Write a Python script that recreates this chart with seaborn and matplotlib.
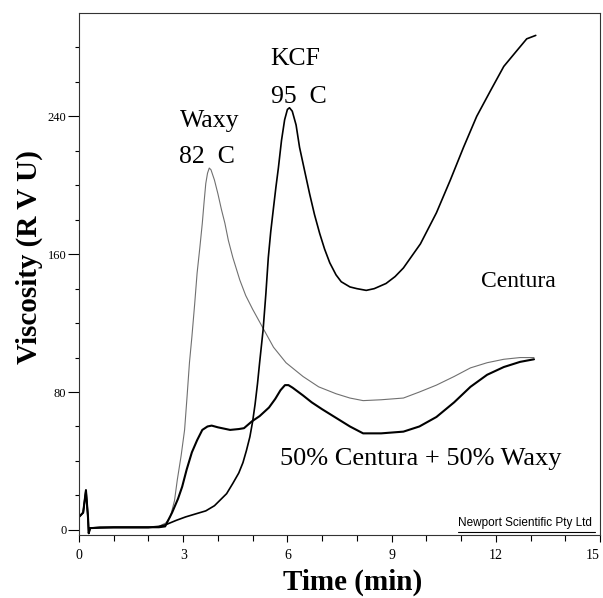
import numpy as np
import pandas as pd
import matplotlib.pyplot as plt
import seaborn as sns

# RVA pasting curves (time in min, viscosity in RVU)
centura_t = [0.0, 0.12, 0.2, 0.26, 0.28, 0.32, 0.6, 1.0, 1.5, 2.0, 2.3, 2.5, 2.8, 3.07, 3.4,
             3.65, 3.9, 4.05, 4.25, 4.43, 4.6, 4.72, 4.82, 4.92, 5.0, 5.07, 5.14, 5.2, 5.3,
             5.38, 5.45, 5.52, 5.6, 5.67, 5.74, 5.83, 5.92, 6.0, 6.06, 6.14, 6.25, 6.35, 6.5,
             6.64, 6.78, 6.93, 7.07, 7.22, 7.4, 7.55, 7.8, 8.0, 8.27, 8.5, 8.84, 9.1, 9.34,
             9.83, 10.29, 10.69, 11.07, 11.45, 11.85, 12.23, 12.6, 12.89, 13.15]
centura_v = [7.5, 10, 23, 7, -2, 1, 1.5, 1.5, 1.5, 1.5, 2, 3, 5.5, 7.5, 9.5,
             11, 14, 17, 21, 27, 33, 39, 46, 54, 63, 73, 85, 97, 116,
             137, 158, 173, 187, 199, 210, 226, 238, 244, 245, 243, 235, 222, 208,
             195, 183, 172, 163, 155, 148, 144, 141, 140, 139, 140, 143, 147, 152,
             166, 184, 203, 222, 240, 255, 269, 278, 285, 287]

waxy_t = [0.0, 0.12, 0.2, 0.26, 0.28, 0.32, 1.0, 2.0, 2.3, 2.5, 2.63, 2.75, 2.83, 2.94, 3.04,
          3.11, 3.18, 3.25, 3.33, 3.4, 3.48, 3.55, 3.6, 3.65, 3.7, 3.75, 3.8, 3.9, 4.0, 4.1,
          4.2, 4.3, 4.43, 4.63, 4.8, 5.0, 5.3, 5.6, 5.96, 6.45, 6.9, 7.4, 7.8, 8.18, 8.7,
          9.34, 9.8, 10.29, 10.8, 11.27, 11.75, 12.23, 12.7, 13.1]
waxy_v = [7.5, 10, 23, 7, -2, 1, 1, 1, 2, 4, 7.5, 17, 29, 43, 58,
          77, 97, 112, 131, 149, 164, 178, 190, 201, 207, 210, 209, 203, 195, 186,
          178, 168, 158, 145, 136, 128, 117, 106, 97, 89, 83, 79, 76.5, 75, 75.5,
          76.5, 80, 84, 89, 94, 97, 99, 100, 100]

mix_t = [0.0, 0.12, 0.2, 0.26, 0.28, 0.32, 1.0, 2.0, 2.3, 2.48, 2.68, 2.85, 2.97, 3.1, 3.25,
         3.4, 3.55, 3.7, 3.82, 4.0, 4.35, 4.6, 4.75, 4.98, 5.2, 5.47, 5.65, 5.8, 5.93, 6.03,
         6.15, 6.45, 6.7, 7.0, 7.4, 7.8, 8.18, 8.7, 9.34, 9.8, 10.29, 10.8, 11.27, 11.75,
         12.23, 12.7, 13.1]
mix_v = [7.5, 10, 23, 7, -2, 1, 1.5, 1.5, 1.5, 2, 10, 18, 25, 35, 45,
         52, 58, 60, 60.5, 59.5, 58, 58.5, 59, 63, 66, 71, 76, 81, 84, 84,
         82.5, 78, 74, 70, 65, 60, 56, 56, 57, 60, 65.5, 74, 83, 90,
         94.5, 97.5, 99]

x_major = [0, 3, 6, 9, 12, 15]
y_major = [0, 80, 160, 240]

sns.set_style('ticks')
plt.rcParams['font.family'] = ['Liberation Serif', 'DejaVu Serif']
plt.rcParams['text.color'] = 'black'
plt.rcParams['axes.labelcolor'] = 'black'
plt.rcParams['xtick.color'] = 'black'
plt.rcParams['ytick.color'] = 'black'

fig = plt.figure(figsize=(6.03, 5.98), dpi=100)
ax = fig.add_axes([79 / 603, 1 - 535 / 598, 521 / 603, 522 / 598])

sns.lineplot(x=waxy_t, y=waxy_v, ax=ax, color='#707070', lw=0.8, estimator=None)
sns.lineplot(x=mix_t, y=mix_v, ax=ax, color='black', lw=1.5, estimator=None)
sns.lineplot(x=centura_t, y=centura_v, ax=ax, color='black', lw=1.2, estimator=None)

ax.set_xlim(0, 15)
ax.set_ylim(-3, 300)
ax.set_xticks(x_major)
ax.set_xticks(np.arange(0, 16, 1), minor=True)
ax.set_yticks(y_major)
ax.set_yticks(np.arange(0, 300, 20), minor=True)
ax.tick_params(axis='x', which='major', direction='out', length=5, width=0.8,
               labelsize=10, pad=5)
ax.tick_params(axis='x', which='minor', direction='out', length=4, width=0.8)
ax.tick_params(axis='y', which='major', direction='out', length=8, width=0.8,
               labelsize=9, pad=1)
ax.tick_params(axis='y', which='minor', direction='out', length=3, width=0.8)
# last x label sits at the figure edge, keep it inside
ax.get_xticklabels()[-1].set_ha('right')
for s in ax.spines.values():
    s.set_linewidth(0.8)
    s.set_color('#333333')

ax.set_xlabel('Time (min)', fontsize=21, fontweight='bold')
ax.set_ylabel('Viscosity (R V U)', fontsize=21, fontweight='bold')
ax.xaxis.set_label_coords(0.526, -0.065)
ax.yaxis.set_label_coords(-0.069, 0.533)

# curve labels
ax.text(2.92, 234, 'Waxy', fontsize=18.5, va='baseline')
ax.text(2.89, 213, '82  C', fontsize=18.5, va='baseline')
ax.text(5.52, 270, 'KCF', fontsize=18.5, va='baseline')
ax.text(5.52, 248, '95  C', fontsize=18.5, va='baseline')
ax.text(11.56, 141, 'Centura', fontsize=17, va='baseline')
ax.text(5.78, 37.5, '50% Centura + 50% Waxy', fontsize=19, va='baseline')

ax.text(0.727, 0.012, 'Newport Scientific Pty Ltd', transform=ax.transAxes,
        fontsize=8.5, family=['Liberation Sans', 'DejaVu Sans'], va='bottom')
ax.plot([0.727, 0.99], [0.006, 0.006], transform=ax.transAxes, color='black', lw=0.8)

fig.savefig('out.png', dpi=100)
